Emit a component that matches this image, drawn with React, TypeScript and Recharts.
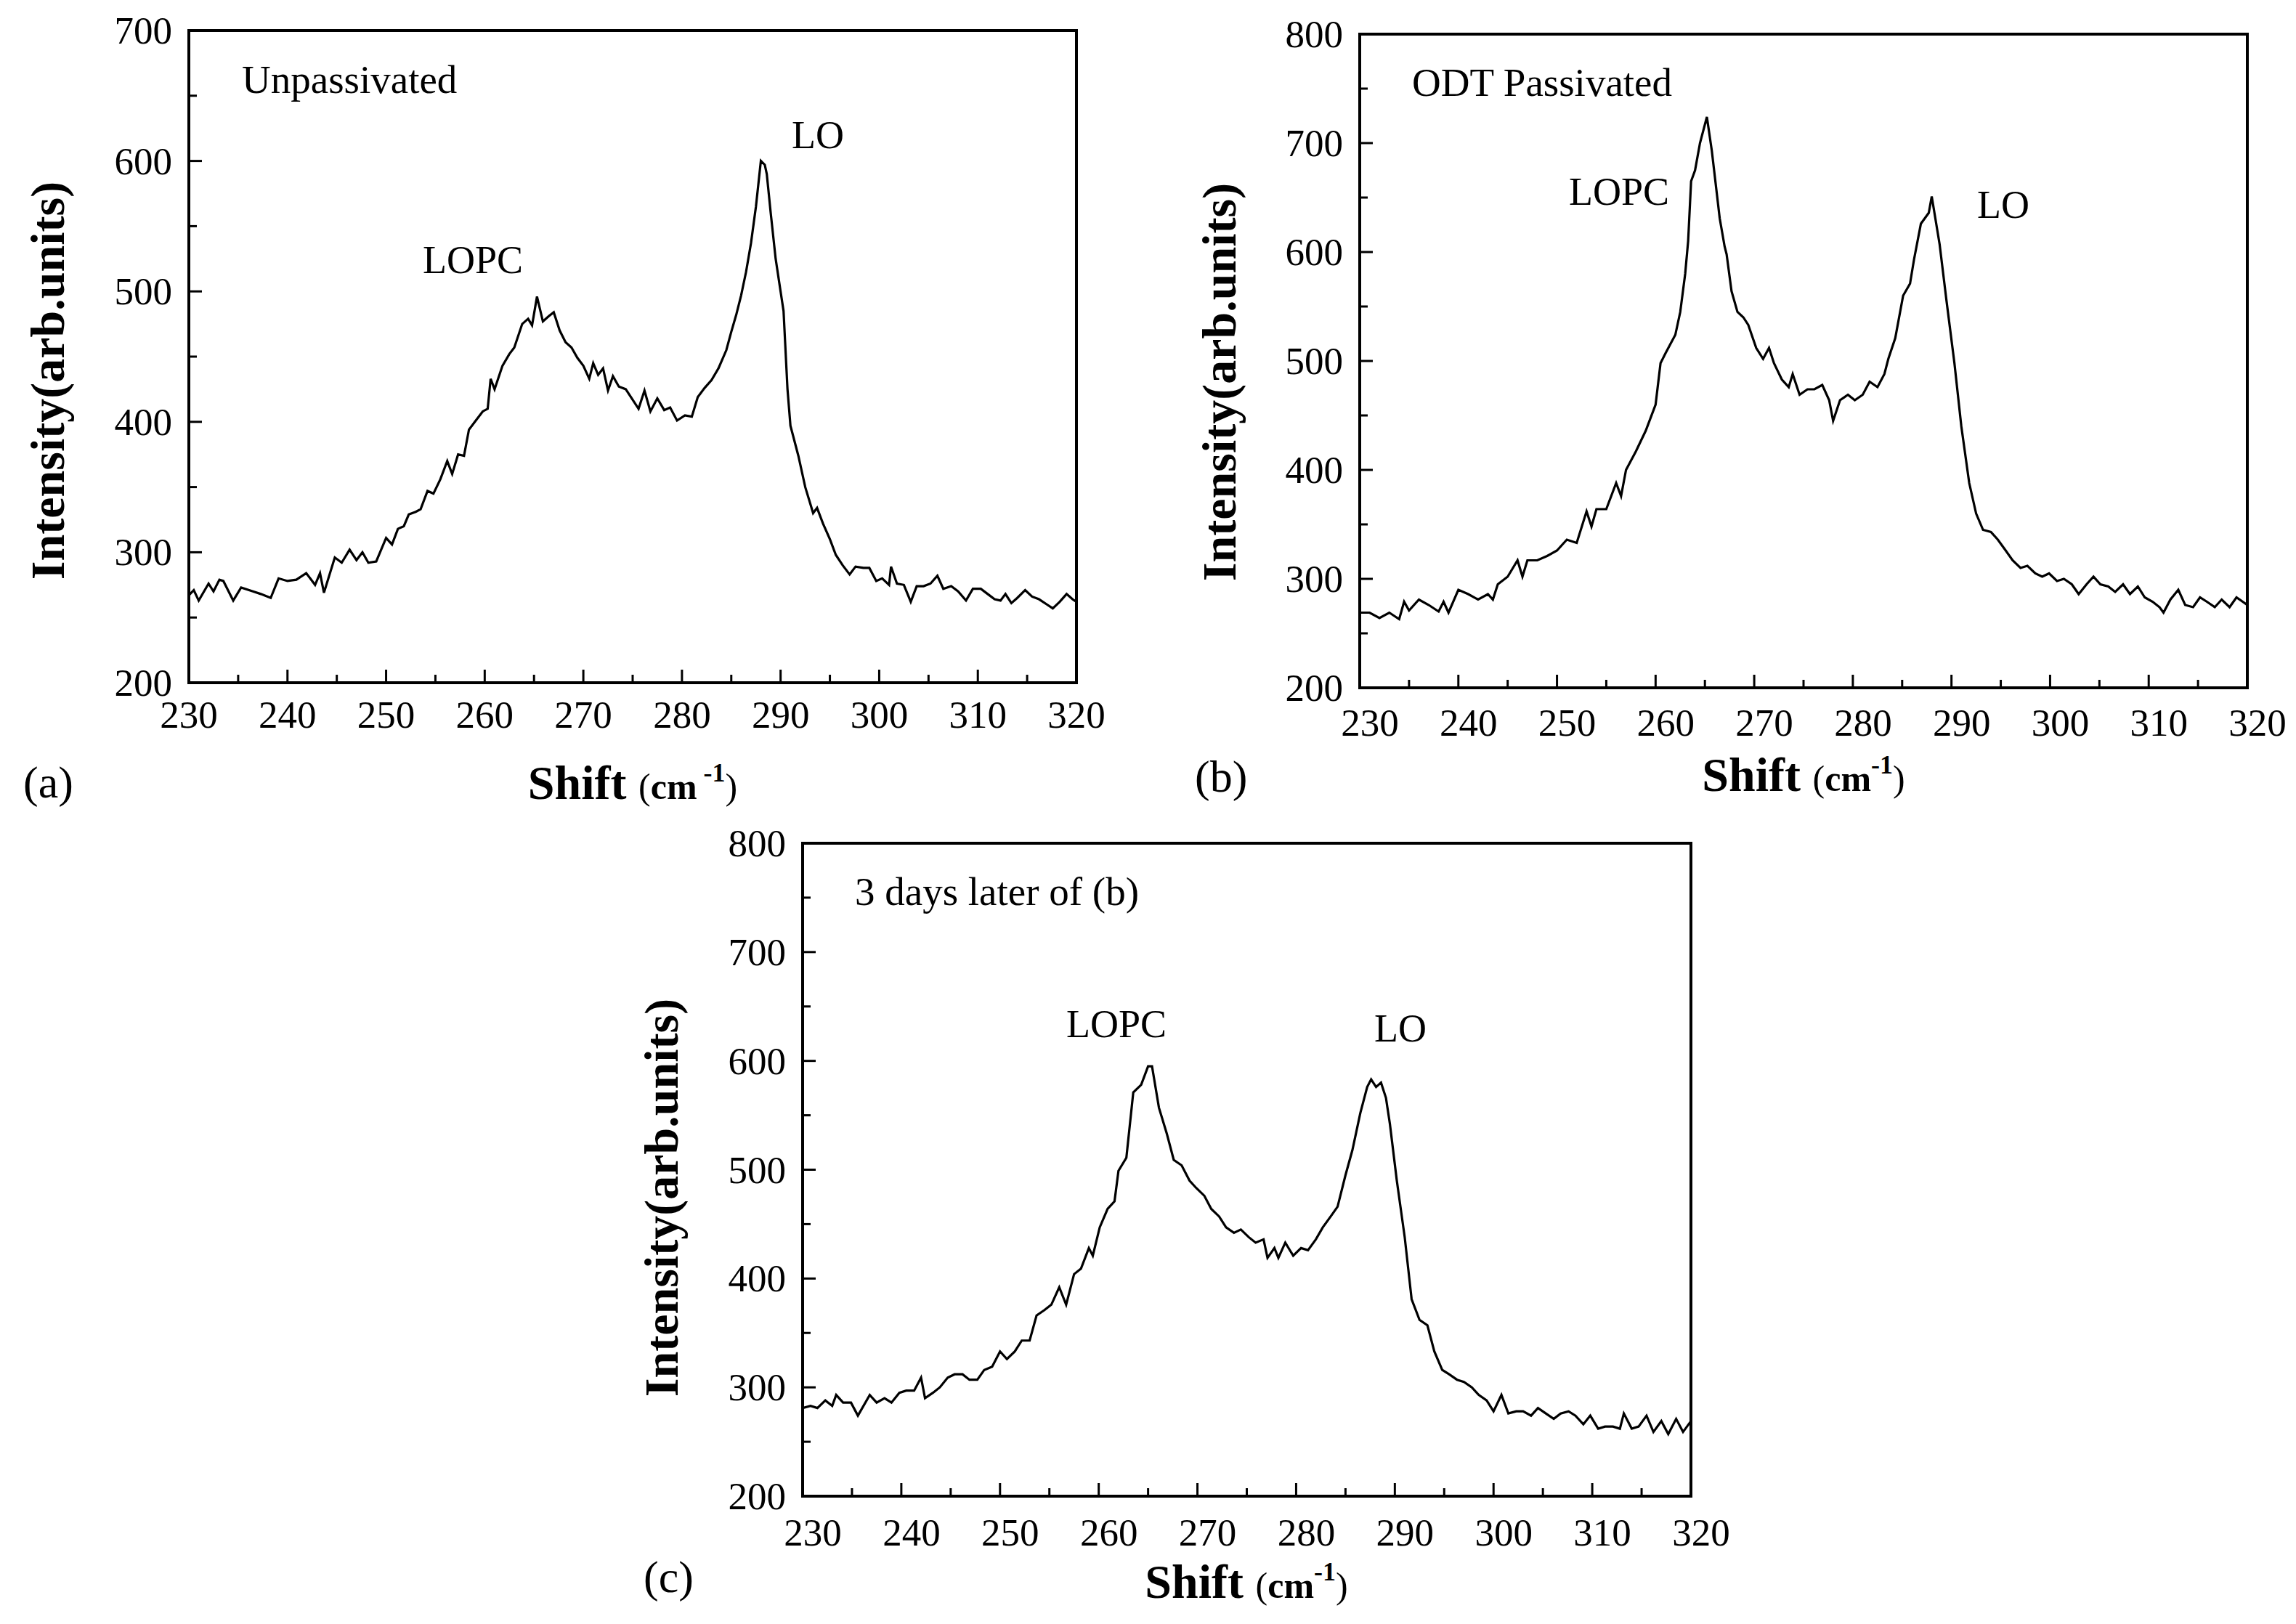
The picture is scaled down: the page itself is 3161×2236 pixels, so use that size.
import React from "react";
import { LineChart, Line, XAxis, YAxis, ReferenceArea } from "recharts";

// Raman spectra (shift in cm-1, intensity in arb. units)
const shiftA = [
  230.0, 230.5, 231.0, 232.0, 232.5, 233.1, 233.5, 234.5, 235.3, 236.5, 237.3, 238.3, 239.1, 240.0,
  240.9, 241.9, 242.8, 243.3, 243.7, 244.8, 245.5, 246.3, 247.0, 247.6, 248.2, 249.0, 250.0, 250.6,
  251.2, 251.8, 252.3, 253.0, 253.5, 254.2, 254.8, 255.5, 256.2, 256.7, 257.3, 257.9, 258.4, 259.0,
  259.8, 260.3, 260.6, 261.0, 261.8, 262.5, 263.0, 263.8, 264.4, 264.8, 265.3, 265.9, 266.5, 267.0,
  267.6, 268.2, 268.8, 269.4, 270.0, 270.6, 271.0, 271.5, 272.0, 272.5, 273.0, 273.6, 274.3, 275.0,
  275.6, 276.2, 276.8, 277.5, 278.2, 278.8, 279.5, 280.3, 281.0, 281.6, 282.3, 283.0, 283.7, 284.5,
  285.0, 285.5, 286.0, 286.5, 287.0, 287.5, 288.0, 288.4, 288.6, 289.0, 289.5, 290.0, 290.3, 290.7,
  291.0, 291.8, 292.5, 293.3, 293.7, 294.3, 295.0, 295.6, 296.3, 297.0, 297.6, 298.4, 299.0, 299.7,
  300.3, 301.0, 301.2, 301.8, 302.5, 303.2, 303.8, 304.5, 305.2, 305.9, 306.5, 307.3, 308.0, 308.8,
  309.5, 310.3, 311.0, 311.7, 312.3, 312.8, 313.4, 314.0, 314.8, 315.5, 316.2, 317.0, 317.6, 318.3,
  319.0, 319.6, 320.0,
];
const intensityA = [
  267, 271, 263, 276, 270, 279, 278, 263, 273, 270, 268, 265, 280, 278,
  279, 284, 275, 284, 269, 296, 292, 302, 294, 300, 292, 293, 311, 306,
  318, 320, 329, 331, 333, 347, 345, 356, 370, 360, 375, 374, 394, 400,
  408, 410, 433, 425, 443, 452, 457, 475, 479, 474, 496, 477, 481, 484,
  470, 461, 457, 449, 443, 433, 445, 436, 441, 424, 435, 427, 425, 417,
  410, 424, 408, 418, 409, 411, 401, 405, 404, 419, 426, 432, 441, 455,
  469, 482, 497, 515, 537, 565, 600, 597, 590, 560, 525, 500, 485, 425,
  397, 374, 350, 330, 334, 322, 310, 298, 290, 283, 289, 288, 288, 278,
  280, 275, 289, 276, 275, 262, 274, 274, 276, 282, 272, 274, 270, 263,
  272, 272, 268, 264, 263, 268, 261, 265, 271, 266, 264, 260, 257, 262,
  268, 264, 262,
];

const shiftB = [
  230.0, 231.0, 232.0, 233.0, 234.0, 234.5, 235.0, 236.0, 237.0, 238.0, 238.5, 239.0, 240.0, 241.0,
  242.0, 243.0, 243.5, 244.0, 245.0, 246.0, 246.5, 247.0, 248.0, 249.0, 250.0, 251.0, 252.0, 253.0,
  253.5, 254.0, 255.0, 256.0, 256.5, 257.0, 258.0, 259.0, 260.0, 260.5, 261.0, 262.0, 262.5, 263.0,
  263.3, 263.6, 264.0, 264.5, 265.2, 265.7, 266.5, 267.0, 267.2, 267.7, 268.3, 268.9, 269.4, 270.2,
  270.9, 271.5, 272.0, 272.8, 273.5, 273.9, 274.6, 275.4, 276.1, 276.9, 277.6, 278.0, 278.7, 279.5,
  280.2, 281.0, 281.7, 282.5, 283.2, 283.6, 284.3, 285.1, 285.8, 286.2, 286.9, 287.3, 287.7, 288.0,
  288.8, 289.5, 290.3, 291.0, 291.8, 292.5, 293.2, 294.0, 294.7, 295.5, 296.2, 297.0, 297.7, 298.5,
  299.2, 299.9, 300.7, 301.4, 302.2, 302.9, 303.7, 304.4, 305.1, 305.9, 306.6, 307.4, 308.1, 308.9,
  309.6, 310.4, 311.1, 311.5, 312.2, 313.0, 313.7, 314.5, 315.2, 315.9, 316.7, 317.4, 318.2, 318.9,
  320.0,
];
const intensityB = [
  269, 269, 264, 269, 263, 279, 271, 281, 276, 270, 279, 269, 290, 286,
  281, 286, 281, 295, 302, 317, 302, 317, 317, 321, 326, 336, 333, 362,
  348, 364, 364, 388, 376, 400, 417, 436, 460, 498, 507, 524, 545, 580,
  610, 665, 675, 700, 724, 693, 631, 605, 598, 564, 545, 540, 533, 512,
  502, 512, 498, 483, 476, 488, 469, 474, 474, 478, 464, 445, 464, 469,
  464, 469, 481, 476, 488, 502, 521, 560, 571, 593, 626, 631, 636, 651,
  607, 555, 498, 440, 388, 360, 345, 343, 336, 326, 317, 310, 312, 305,
  302, 305, 298, 300, 295, 286, 295, 302, 295, 293, 288, 295, 286, 293,
  283, 279, 274, 269, 281, 290, 276, 274, 283, 279, 274, 281, 274, 283,
  276,
];

const shiftC = [
  230.0, 230.8, 231.5, 232.3, 233.0, 233.4, 234.1, 234.9, 235.6, 236.8, 237.5, 238.3, 239.0, 239.8,
  240.5, 241.3, 242.0, 242.4, 243.2, 243.9, 244.7, 245.4, 246.2, 246.9, 247.7, 248.4, 249.2, 250.0,
  250.7, 251.5, 252.2, 253.0, 253.7, 254.5, 255.2, 256.0, 256.7, 257.5, 258.2, 259.0, 259.4, 260.1,
  260.9, 261.6, 262.0, 262.8, 263.5, 264.3, 265.0, 265.4, 266.1, 266.9, 267.6, 268.4, 269.2, 269.9,
  270.7, 271.4, 272.2, 272.9, 273.7, 274.4, 275.2, 275.9, 276.7, 277.1, 277.8, 278.2, 278.9, 279.7,
  280.5, 281.2, 282.0, 282.7, 283.5, 284.2, 285.0, 285.7, 286.5, 287.2, 287.6, 288.1, 288.6, 289.1,
  289.5, 290.2, 291.0, 291.7, 292.5, 293.3, 294.0, 294.8, 295.5, 296.3, 297.0, 297.8, 298.5, 299.3,
  300.0, 300.8, 301.5, 302.3, 303.0, 303.8, 304.5, 305.3, 306.1, 306.8, 307.6, 308.3, 309.1, 309.8,
  310.6, 311.3, 312.1, 312.8, 313.2, 314.0, 314.7, 315.5, 316.2, 317.0, 317.7, 318.5, 319.2, 320.0,
];
const intensityC = [
  281, 283, 281, 288, 283, 293, 286, 286, 274, 293, 286, 290, 286, 295,
  297, 297, 309, 290, 295, 300, 309, 312, 312, 307, 307, 316, 319, 333,
  326, 333, 343, 343, 366, 371, 376, 392, 376, 404, 409, 428, 421, 447,
  464, 471, 499, 511, 571, 578, 595, 595, 557, 533, 509, 504, 490, 483,
  476, 464, 457, 447, 442, 445, 438, 433, 436, 419, 428, 419, 433, 421,
  428, 426, 436, 447, 457, 466, 495, 518, 552, 576, 583, 576, 580, 566,
  542, 490, 438, 381, 362, 357, 333, 316, 312, 307, 305, 300, 293, 288,
  278, 293, 276, 278, 278, 274, 281, 276, 271, 276, 278, 274, 266, 274,
  262, 264, 264, 262, 276, 262, 264, 274, 259, 269, 257, 271, 259, 269,
];

const xTicks = [230, 235, 240, 245, 250, 255, 260, 265, 270, 275, 280, 285, 290, 295, 300, 305, 310, 315, 320];
const yTicks700 = [200, 250, 300, 350, 400, 450, 500, 550, 600, 650, 700];
const yTicks800 = [200, 250, 300, 350, 400, 450, 500, 550, 600, 650, 700, 750, 800];

const PAGE_W = 3161;
const PAGE_H = 2236;
const FONT = "'Liberation Serif', 'Times New Roman', serif";

const zip = (xs: number[], ys: number[]) => xs.map((x, i) => ({ x, y: ys[i] }));

const panels = [
  { key: "a", data: zip(shiftA, intensityA), yMax: 700, yTicks: yTicks700, left: 260, right: 1482, top: 42, bottom: 940, labelDx: 0, labelDy: 44 },
  { key: "b", data: zip(shiftB, intensityB), yMax: 800, yTicks: yTicks800, left: 1872, right: 3094, top: 47, bottom: 947, labelDx: 14, labelDy: 48 },
  { key: "c", data: zip(shiftC, intensityC), yMax: 800, yTicks: yTicks800, left: 1105, right: 2328, top: 1161, bottom: 2060, labelDx: 14, labelDy: 50 },
];

function XTick(props: any) {
  const { x, y, payload, labelDx, labelDy } = props;
  const major = payload.value % 10 === 0;
  return (
    <g>
      <line x1={x} x2={x} y1={y} y2={y - (major ? 18 : 11)} stroke="#000" strokeWidth={3} />
      {major && (
        <text x={x + labelDx} y={y + labelDy} textAnchor="middle" dominantBaseline="central" fontSize={53} fontFamily={FONT} fill="#000">
          {payload.value}
        </text>
      )}
    </g>
  );
}

function YTick(props: any) {
  const { x, y, payload } = props;
  const major = payload.value % 100 === 0;
  return (
    <g>
      <line x1={x} x2={x + (major ? 18 : 11)} y1={y} y2={y} stroke="#000" strokeWidth={3} />
      {major && (
        <text x={x - 23} y={y} textAnchor="end" dominantBaseline="central" fontSize={53} fontFamily={FONT} fill="#000">
          {payload.value}
        </text>
      )}
    </g>
  );
}

function Panel({ p }: { p: (typeof panels)[number] }) {
  // axes get a 1px band so they still render; margins are trimmed to keep the plot box in place
  return (
    <div style={{ position: "absolute", left: 0, top: 0 }}>
      <LineChart
        width={PAGE_W}
        height={PAGE_H}
        data={p.data}
        margin={{ left: p.left - 1, top: p.top, right: PAGE_W - p.right, bottom: PAGE_H - p.bottom - 1 }}
      >
        <XAxis
          type="number"
          dataKey="x"
          domain={[230, 320]}
          ticks={xTicks}
          interval={0}
          height={1}
          tickSize={0}
          tickMargin={0}
          axisLine={false}
          tickLine={false}
          allowDataOverflow
          tick={<XTick labelDx={p.labelDx} labelDy={p.labelDy} />}
        />
        <YAxis
          type="number"
          domain={[200, p.yMax]}
          ticks={p.yTicks}
          interval={0}
          width={1}
          tickSize={0}
          tickMargin={0}
          axisLine={false}
          tickLine={false}
          allowDataOverflow
          tick={<YTick />}
        />
        <ReferenceArea
          x1={230}
          x2={320}
          y1={200}
          y2={p.yMax}
          fill="none"
          fillOpacity={0}
          stroke="#000"
          strokeWidth={4}
          ifOverflow="visible"
        />
        <Line
          type="linear"
          dataKey="y"
          stroke="#000"
          strokeWidth={3.2}
          dot={false}
          isAnimationActive={false}
        />
      </LineChart>
    </div>
  );
}

function YTitle({ cx, cy }: { cx: number; cy: number }) {
  return (
    <text
      x={cx}
      y={cy}
      transform={`rotate(-90, ${cx}, ${cy})`}
      textAnchor="middle"
      dominantBaseline="central"
      fontSize={66}
      fontWeight="bold"
      fontFamily={FONT}
    >
      Intensity(arb.units)
    </text>
  );
}

function XTitle({ cx, y, spaced }: { cx: number; y: number; spaced: boolean }) {
  return (
    <text x={cx} y={y} textAnchor="middle" fontFamily={FONT}>
      <tspan fontWeight="bold" fontSize={66}>Shift </tspan>
      <tspan fontSize={50}>(</tspan>
      <tspan fontWeight="bold" fontSize={50}>cm</tspan>
      <tspan fontWeight="bold" fontSize={36} dy={-24}>{spaced ? " -1" : "-1"}</tspan>
      <tspan fontSize={50} dy={24}>)</tspan>
    </text>
  );
}

export default function App() {
  return (
    <div style={{ position: "absolute", left: 0, top: 0, width: PAGE_W, height: PAGE_H, background: "#fff" }}>
      {panels.map((p) => (
        <Panel key={p.key} p={p} />
      ))}
      <svg width={PAGE_W} height={PAGE_H} style={{ position: "absolute", left: 0, top: 0 }}>
        <g fontFamily={FONT} fill="#000">
          {/* panel (a) */}
          <YTitle cx={65} cy={524} />
          <XTitle cx={871} y={1100} spaced />
          <text x={32} y={1098} fontSize={62}>(a)</text>
          <text x={333} y={128} fontSize={55}>Unpassivated</text>
          <text x={582} y={376} fontSize={54}>LOPC</text>
          <text x={1090} y={204} fontSize={54}>LO</text>

          {/* panel (b) */}
          <YTitle cx={1678} cy={526} />
          <XTitle cx={2483} y={1089} spaced={false} />
          <text x={1645} y={1090} fontSize={62}>(b)</text>
          <text x={1944} y={132} fontSize={55}>ODT Passivated</text>
          <text x={2160} y={282} fontSize={54}>LOPC</text>
          <text x={2722} y={300} fontSize={54}>LO</text>

          {/* panel (c) */}
          <YTitle cx={910} cy={1649} />
          <XTitle cx={1716} y={2200} spaced={false} />
          <text x={886} y={2192} fontSize={62}>(c)</text>
          <text x={1177} y={1246} fontSize={55}>3 days later of (b)</text>
          <text x={1468} y={1428} fontSize={54}>LOPC</text>
          <text x={1892} y={1434} fontSize={54}>LO</text>
        </g>
      </svg>
    </div>
  );
}
